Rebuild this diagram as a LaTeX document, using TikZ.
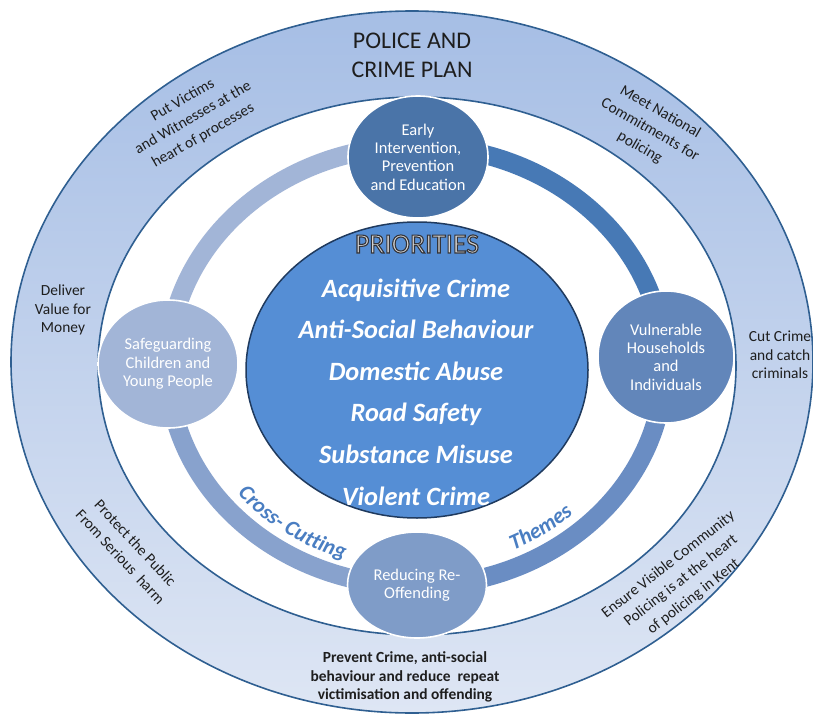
\documentclass[tikz,border=0pt]{standalone}
\usepackage{fontspec}
\setmainfont{Carlito}
\usetikzlibrary{shapes.geometric,decorations.text}
\definecolor{rimblue}{HTML}{2F5F91}
\definecolor{outertop}{HTML}{A6BEE5}
\definecolor{outerbot}{HTML}{DEE6F4}
\definecolor{earlyc}{HTML}{4A74A8}
\definecolor{vulnc}{HTML}{6286BA}
\definecolor{safec}{HTML}{A2B5D7}
\definecolor{reducec}{HTML}{7F9CC8}
\definecolor{arcTL}{HTML}{A2B5D7}
\definecolor{arcTR}{HTML}{4779B5}
\definecolor{arcBR}{HTML}{6A8DC3}
\definecolor{arcBL}{HTML}{88A2CD}
\definecolor{centerc}{HTML}{558ED5}
\definecolor{centerborder}{HTML}{1F3A5E}
\definecolor{txtdark}{HTML}{1E1E1E}
\definecolor{themeblue}{HTML}{4A7EC2}
\definecolor{prigray}{HTML}{D4D4D4}
\newcommand\outlinetxt[1]{\special{pdf:literal direct 2 Tr 1.1 w 0.2 0.2 0.22 RG}#1\special{pdf:literal direct 0 Tr}}
\begin{document}
\begin{tikzpicture}[x=1bp,y=1bp,
  satnode/.style={ellipse, draw=white, line width=1.6bp, inner sep=0pt, text=white, align=center, font=\fontsize{16.5}{18.5}\selectfont},
  ringtxt/.style={inner sep=0pt, align=center, text=txtdark, font=\fontsize{15.5}{18.5}\selectfont},
  slanttxt/.style={inner sep=0pt, align=center, text=txtdark, font=\fontsize{15.5}{20.5}\selectfont},
  priotxt/.style={inner sep=0pt, anchor=base, text=white, font=\fontsize{26.5}{30}\selectfont\bfseries\itshape},
  headtxt/.style={inner sep=0pt, anchor=base, text=prigray, font=\fontsize{28}{30}\selectfont},
  ringarc/.style={line width=19bp},
  rimline/.style={draw=rimblue, line width=1.6bp}]
\useasboundingbox (0,0) rectangle (813,-717);
\coordinate (oc) at (412,-362);
\coordinate (ic) at (417,-366);
\coordinate (rc) at (416,-366);
\coordinate (cc) at (417,-370);
% outer band
\shadedraw[top color=outertop, bottom color=outerbot, rimline] (oc) ellipse [x radius=401, y radius=351];
\filldraw[fill=white, rimline] (ic) ellipse [x radius=319, y radius=269];
% ring of themes
\draw[ringarc, draw=arcTR] ([shift={(0:248 and 220)}]rc) arc[start angle=0, end angle=90, x radius=248, y radius=220];
\draw[ringarc, draw=arcTL] ([shift={(90:248 and 220)}]rc) arc[start angle=90, end angle=180, x radius=248, y radius=220];
\draw[ringarc, draw=arcBL] ([shift={(180:248 and 220)}]rc) arc[start angle=180, end angle=270, x radius=248, y radius=220];
\draw[ringarc, draw=arcBR] ([shift={(270:248 and 220)}]rc) arc[start angle=270, end angle=360, x radius=248, y radius=220];
% curved labels
\path[decorate, decoration={text along path, text={|\fontsize{22}{22}\selectfont\bfseries\itshape|Cross- Cutting}, text align=center, text color=themeblue}]
  ([shift={(199.5:229.4 and 203.5)}]rc) arc[start angle=199.5, end angle=269.5, x radius=229.4, y radius=203.5];
\path[decorate, decoration={text along path, text={|\fontsize{22}{22}\selectfont\bfseries\itshape|Themes}, text align=center, text color=themeblue}]
  ([shift={(284.5:229.4 and 203.5)}]rc) arc[start angle=284.5, end angle=324.5, x radius=229.4, y radius=203.5];
% theme circles
\node[satnode, fill=earlyc, minimum width=140bp, minimum height=122bp] (early) at (418,-157) {Early\\Intervention,\\Prevention\\and Education};
\node[satnode, fill=vulnc, minimum width=136bp, minimum height=132bp] (vuln) at (666,-357) {Vulnerable\\Households\\and\\Individuals};
\node[satnode, fill=safec, minimum width=140bp, minimum height=128bp] (safe) at (168,-364) {Safeguarding\\Children and\\Young People};
\node[satnode, fill=reducec, minimum width=139bp, minimum height=106bp] (reduce) at (417,-585) {Reducing Re-\\Offending};
% priorities
\draw[fill=centerc, draw=centerborder, line width=1.5bp] (cc) ellipse [x radius=171, y radius=148];
\node[headtxt] (prhead) at (417,-253) {\outlinetxt{PRIORITIES}};
\node[priotxt] (p1) at (416,-297) {Acquisitive Crime};
\node[priotxt] (p2) at (416,-338.6) {Anti-Social Behaviour};
\node[priotxt] (p3) at (416,-380.2) {Domestic Abuse};
\node[priotxt] (p4) at (416,-421.8) {Road Safety};
\node[priotxt] (p5) at (416,-463.4) {Substance Misuse};
\node[priotxt] (p6) at (416,-505) {Violent Crime};
% outer band texts
\node[ringtxt, font=\fontsize{24}{29}\selectfont] (title) at (412,-55) {POLICE AND\\CRIME PLAN};
\node[slanttxt, rotate=30] (victims) at (193,-118) {Put Victims\\and Witnesses at the\\heart of processes};
\node[slanttxt, rotate=-30] (national) at (650,-130) {Meet National\\Commitments for\\policing};
\node[ringtxt] (money) at (63,-310) {Deliver\\Value for\\Money};
\node[ringtxt] (cutcrime) at (780,-355) {Cut Crime\\and catch\\criminals};
\node[slanttxt, rotate=-47] (protect) at (128,-550) {Protect the Public\\From Serious\ \ harm};
\node[slanttxt, rotate=38] (visible) at (681,-581) {Ensure Visible Community\\Policing is at the heart\\of policing in Kent};
\node[ringtxt, font=\fontsize{15.5}{18.5}\selectfont\bfseries] (prevent) at (405,-677) {Prevent Crime, anti-social\\behaviour and reduce\ \ repeat\\victimisation and offending};
\end{tikzpicture}
\end{document}
